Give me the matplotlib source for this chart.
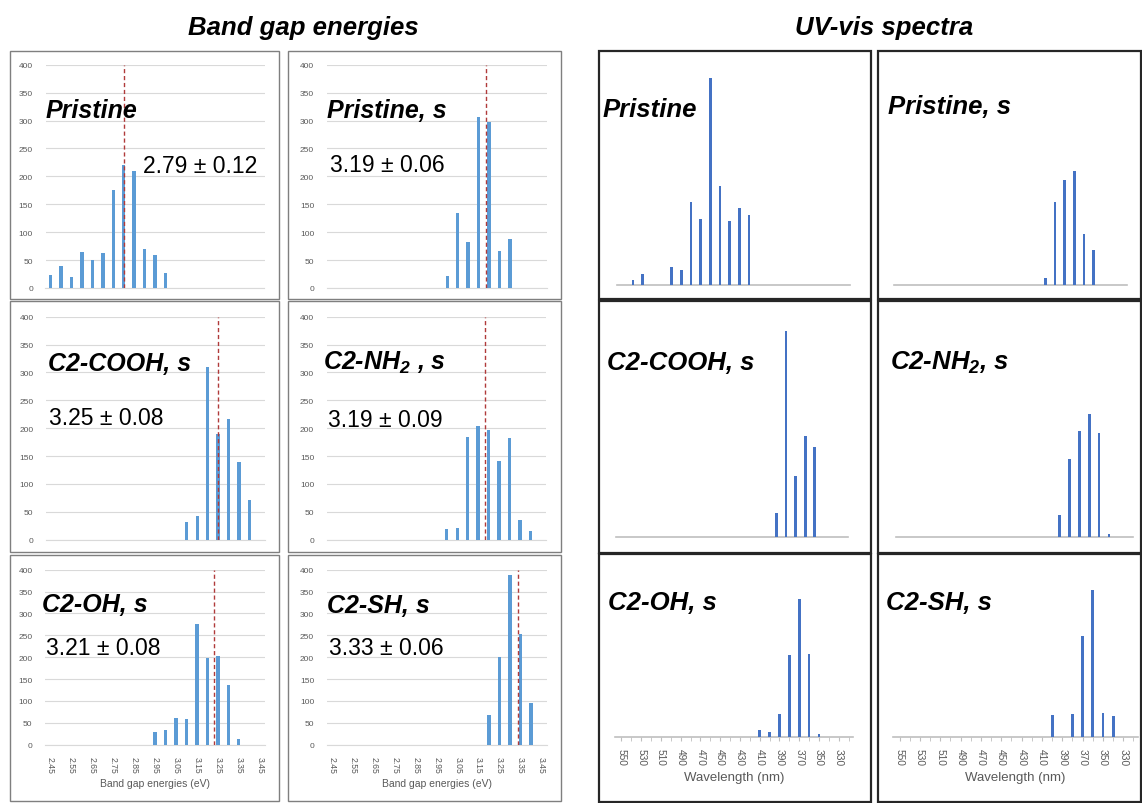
import matplotlib
matplotlib.use("Agg")
import matplotlib.pyplot as plt
from matplotlib.patches import Rectangle

plt.rcParams["font.family"] = ["Liberation Sans", "DejaVu Sans"]
plt.rcParams["mathtext.fontset"] = "custom"
plt.rcParams["mathtext.rm"] = "Liberation Sans:italic:bold"
plt.rcParams["mathtext.it"] = "Liberation Sans:italic:bold"
plt.rcParams["mathtext.bf"] = "Liberation Sans:italic:bold"

# ---- band gap histograms (counts per 0.05 eV bin) ----
bg_bins = [2.45, 2.50, 2.55, 2.60, 2.65, 2.70, 2.75, 2.80, 2.85, 2.90, 2.95,
           3.00, 3.05, 3.10, 3.15, 3.20, 3.25, 3.30, 3.35, 3.40, 3.45]
bg_ticks = [2.45, 2.55, 2.65, 2.75, 2.85, 2.95, 3.05, 3.15, 3.25, 3.35, 3.45]
bg_pristine = [24, 39, 20, 65, 50, 63, 176, 220, 209, 69, 59, 26, 0, 0, 0, 0, 0, 0, 0, 0, 0]
bg_pristine_s = [0, 0, 0, 0, 0, 0, 0, 0, 0, 0, 0, 22, 135, 83, 307, 297, 67, 87, 0, 0, 0]
bg_cooh = [0, 0, 0, 0, 0, 0, 0, 0, 0, 0, 0, 0, 0, 31, 42, 309, 190, 216, 139, 72, 0]
bg_nh2 = [0, 0, 0, 0, 0, 0, 0, 0, 0, 0, 0, 19, 21, 185, 204, 197, 142, 183, 35, 15, 0]
bg_oh = [0, 0, 0, 0, 0, 0, 0, 0, 0, 0, 29, 33, 60, 58, 277, 198, 203, 136, 14, 0, 0]
bg_sh = [0, 0, 0, 0, 0, 0, 0, 0, 0, 0, 0, 0, 0, 0, 0, 69, 200, 388, 254, 96, 0]
bg_means = ["2.79 ± 0.12", "3.19 ± 0.06", "3.25 ± 0.08", "3.19 ± 0.09", "3.21 ± 0.08", "3.33 ± 0.06"]
mean_line_ev = [2.80, 3.185, 3.25, 3.185, 3.23, 3.34]

# ---- UV-vis spectra (relative intensity per 10 nm) ----
uv_wl = [550, 540, 530, 520, 510, 500, 490, 480, 470, 460, 450, 440,
         430, 420, 410, 400, 390, 380, 370, 360, 350, 340, 330, 320]
uv_ticks = [550, 530, 510, 490, 470, 450, 430, 410, 390, 370, 350, 330]
uv_pristine = [0, 14, 31, 0, 0, 53, 44, 248, 196, 619, 296, 190, 229, 208, 0, 0, 0, 0, 0, 0, 0, 0, 0, 0]
uv_pristine_s = [0, 0, 0, 0, 0, 0, 0, 0, 0, 0, 0, 0, 0, 0, 0, 19, 247, 314, 341, 153, 104, 0, 0, 0]
uv_cooh = [0, 0, 0, 0, 0, 0, 0, 0, 0, 0, 0, 0, 0, 0, 0, 0, 72, 617, 182, 304, 269, 0, 0, 0]
uv_nh2 = [0, 0, 0, 0, 0, 0, 0, 0, 0, 0, 0, 0, 0, 0, 0, 0, 67, 234, 319, 370, 312, 8, 0, 0]
uv_oh = [0, 0, 0, 0, 0, 0, 0, 0, 0, 0, 0, 0, 0, 0, 22, 14, 69, 247, 415, 250, 9, 0, 0, 0]
uv_sh = [0, 0, 0, 0, 0, 0, 0, 0, 0, 0, 0, 0, 0, 0, 0, 65, 0, 68, 302, 442, 71, 62, 0, 0]

labels_bg = ["Pristine", "Pristine, s", "C2-COOH, s", "C2-NH$_2$ , s", "C2-OH, s", "C2-SH, s"]
labels_uv = ["Pristine", "Pristine, s", "C2-COOH, s", "C2-NH$_2$, s", "C2-OH, s", "C2-SH, s"]

W, H = 1142, 804
fig = plt.figure(figsize=(W / 100, H / 100), dpi=100)
fig.patch.set_facecolor("white")


def px_axes(x0, y0, x1, y1):
    return fig.add_axes([x0 / W, 1 - y1 / H, (x1 - x0) / W, (y1 - y0) / H])


def px_text(x, y, s, **kw):
    fig.text(x / W, 1 - y / H, s, **kw)


def px_box(x0, y0, x1, y1, color, lw):
    fig.patches.append(Rectangle((x0 / W, 1 - y1 / H), (x1 - x0) / W, (y1 - y0) / H,
                                 transform=fig.transFigure, fill=False,
                                 edgecolor=color, linewidth=lw, zorder=0))


# panel frames
bg_cols = [(10, 279), (288, 561)]
bg_rows = [(52, 300), (302, 553), (556, 802)]
for (y0, y1) in bg_rows:
    for (x0, x1) in bg_cols:
        px_box(x0, y0, x1, y1, "#7f7f7f", 1.0)
uv_cols = [(599, 871), (878, 1141)]
uv_rows = [(52, 300), (302, 554), (555, 803)]
for (y0, y1) in uv_rows:
    for (x0, x1) in uv_cols:
        px_box(x0, y0, x1, y1, "#262626", 1.6)

px_text(303, 35, "Band gap energies", fontsize=18.5, fontweight="bold", fontstyle="italic",
        ha="center", va="baseline")
px_text(884, 35, "UV-vis spectra", fontsize=18.5, fontweight="bold", fontstyle="italic",
        ha="center", va="baseline")

# ---- band gap panels ----
bg_series = [bg_pristine, bg_pristine_s, bg_cooh, bg_nh2, bg_oh, bg_sh]
bg_axes_px = [(45.5, 65.7, 264.5, 289), (326.7, 65.7, 546.7, 289),
              (46, 317.7, 265, 540.7), (326.7, 317.7, 546, 540.7),
              (45, 570.7, 265, 745.7), (326.7, 570.7, 546.7, 745.7)]
bg_label_px = [(46, 118), (327, 118), (48, 371), (323, 370), (42, 612), (327, 613)]
bg_mean_px = [(143, 173), (330, 172), (49, 425), (328, 427), (46, 655), (329, 655)]

for i, counts in enumerate(bg_series):
    ax = px_axes(*bg_axes_px[i])
    ax.bar(bg_bins, counts, width=0.016, color="#5b9bd5", zorder=3)
    ax.axvline(mean_line_ev[i], color="#b03a3a", linestyle=(0, (3, 2)), linewidth=1.0, zorder=4)
    ax.set_xlim(2.425, 3.475)
    ax.set_ylim(0, 400)
    ax.set_yticks(range(0, 401, 50))
    ax.grid(axis="y", color="#d9d9d9", linewidth=0.8, zorder=0)
    for side in ["top", "right", "left"]:
        ax.spines[side].set_visible(False)
    ax.spines["bottom"].set_color("#d9d9d9")
    ax.tick_params(axis="y", length=0, labelsize=6, labelcolor="#595959", pad=9)
    ax.set_xticks(bg_ticks)
    if i >= 4:
        ax.set_xticklabels([f"{t:.2f}" for t in bg_ticks], rotation=-90)
        ax.tick_params(axis="x", length=0, labelsize=6.2, labelcolor="#595959", pad=8)
        ax.set_xlabel("Band gap energies (eV)", fontsize=7.5, color="#595959", labelpad=4)
    else:
        ax.tick_params(axis="x", length=0, labelbottom=False)
    ax.patch.set_alpha(0)
    px_text(*bg_label_px[i], labels_bg[i], va="baseline", fontsize=18,
            fontweight="bold", fontstyle="italic", color="black")
    px_text(*bg_mean_px[i], bg_means[i], va="baseline", fontsize=16.5, color="black")

# ---- UV-vis panels ----
uv_series = [uv_pristine, uv_pristine_s, uv_cooh, uv_nh2, uv_oh, uv_sh]
uv_axes_px = [(617, 65.7, 850, 285.7), (894, 65.7, 1127, 285.7),
              (616, 318, 848, 538), (896, 318, 1133, 538),
              (615, 518, 853, 738), (893, 518, 1138, 738)]
uv_label_px = [(603, 117), (888, 114), (607, 370), (890, 370), (608, 610), (886, 610)]

for i, inten in enumerate(uv_series):
    ax = px_axes(*uv_axes_px[i])
    ax.bar(uv_wl, inten, width=2.8, color="#4472c4", zorder=3)
    ax.set_xlim(556.5, 315.5)
    ax.set_ylim(0, 660)
    ax.set_yticks([])
    for side in ["top", "right", "left"]:
        ax.spines[side].set_visible(False)
    ax.spines["bottom"].set_color("#bfbfbf")
    ax.spines["bottom"].set_linewidth(1.2)
    ax.set_xticks(uv_ticks)
    if i >= 4:
        ax.set_xticks(uv_wl, minor=True)
        ax.set_xticklabels([str(t) for t in uv_ticks], rotation=-90)
        ax.tick_params(axis="x", which="both", length=3, color="#bfbfbf",
                       labelsize=7.3, labelcolor="#595959", pad=5)
        ax.set_xlabel("Wavelength (nm)", fontsize=9.5, color="#595959", labelpad=4)
    else:
        ax.tick_params(axis="x", length=0, labelbottom=False)
    ax.patch.set_alpha(0)
    px_text(*uv_label_px[i], labels_uv[i], va="baseline", fontsize=18.5,
            fontweight="bold", fontstyle="italic", color="black")

fig.savefig("out.png", dpi=100, facecolor="white")
